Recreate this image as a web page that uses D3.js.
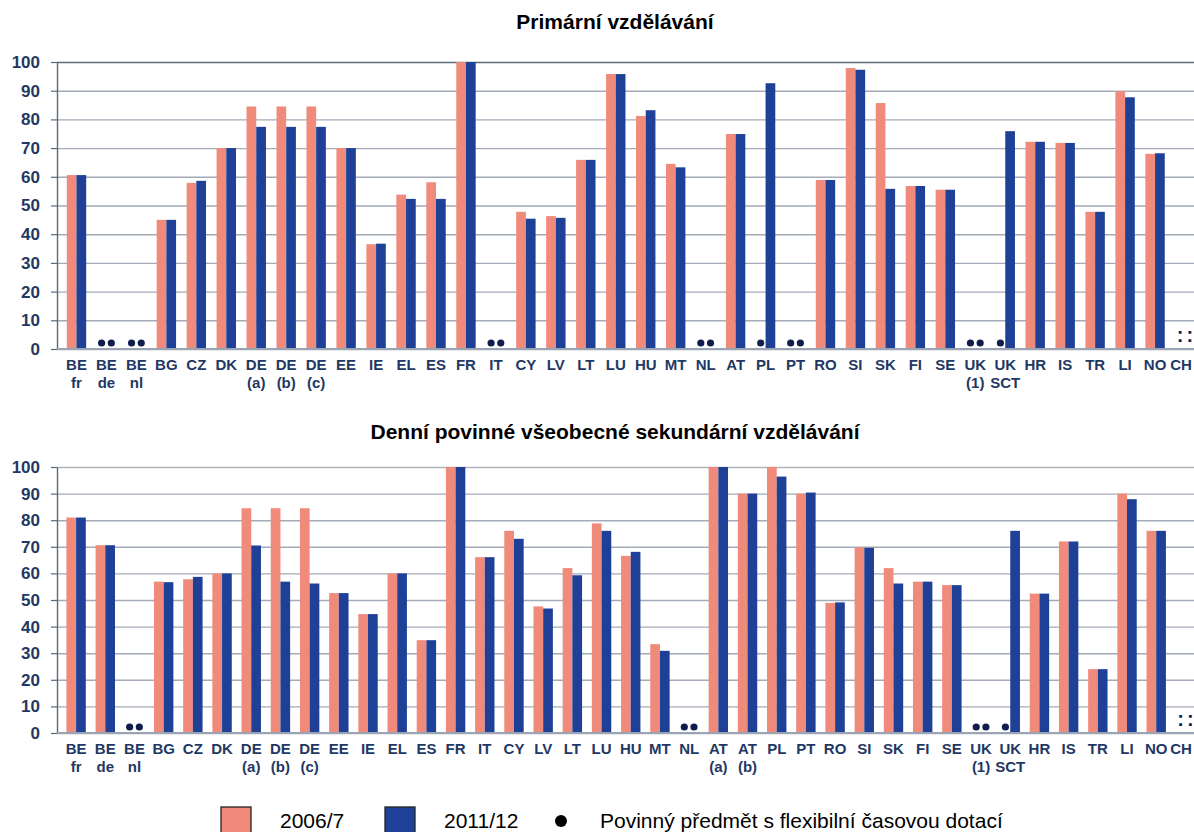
<!DOCTYPE html>
<html>
<head>
<meta charset="utf-8">
<script src="https://cdn.jsdelivr.net/npm/d3@7"></script>
<style>
  body { margin: 0; background: #fff; }
  svg { display: block; font-family: "Liberation Sans", Arial, sans-serif; }
  .axisText { font-weight: bold; fill: #1f3864; }
</style>
</head>
<body>
<div id="chart"></div>
<script>
// Primary education
var primCountries = ["BE fr", "BE de", "BE nl", "BG", "CZ", "DK", "DE (a)", "DE (b)", "DE (c)", "EE", "IE", "EL", "ES", "FR", "IT", "CY", "LV", "LT", "LU", "HU", "MT", "NL", "AT", "PL", "PT", "RO", "SI", "SK", "FI", "SE", "UK (1)", "UK SCT", "HR", "IS", "TR", "LI", "NO", "CH"];
var prim2006 = [60.6, null, null, 45, 57.9, 70, 84.5, 84.5, 84.5, 70, 36.5, 53.8, 58.1, 100, null, 47.8, 46.3, 65.9, 95.8, 81.2, 64.5, null, 74.9, null, null, 58.9, 97.9, 85.7, 56.8, 55.5, null, null, 72.2, 71.8, 47.8, 89.8, 68.0, null];
var prim2011 = [60.6, null, null, 45, 58.6, 70, 77.4, 77.4, 77.4, 70, 36.7, 52.3, 52.3, 100, null, 45.4, 45.7, 65.9, 95.8, 83.2, 63.3, null, 74.9, 92.6, null, 58.9, 97.3, 55.8, 56.8, 55.5, null, 75.9, 72.2, 71.8, 47.8, 87.7, 68.2, null];
var primFlex2006 = ["BE de", "BE nl", "IT", "NL", "PL", "PT", "UK (1)", "UK SCT"];
var primFlex2011 = ["BE de", "BE nl", "IT", "NL", "PT", "UK (1)"];
var primNoData = ["CH"];

// Full-time compulsory general secondary education
var secCountries = ["BE fr", "BE de", "BE nl", "BG", "CZ", "DK", "DE (a)", "DE (b)", "DE (c)", "EE", "IE", "EL", "ES", "FR", "IT", "CY", "LV", "LT", "LU", "HU", "MT", "NL", "AT (a)", "AT (b)", "PL", "PT", "RO", "SI", "SK", "FI", "SE", "UK (1)", "UK SCT", "HR", "IS", "TR", "LI", "NO", "CH"];
var sec2006 = [81, 70.6, null, 56.9, 57.8, 60, 84.5, 84.5, 84.5, 52.6, 44.7, 60, 34.9, 100, 66.1, 76, 47.6, 62, 78.8, 66.6, 33.4, null, 100, 90, 100, 90, 48.9, 69.8, 62, 56.9, 55.6, null, null, 52.4, 72, 24, 90, 76, null];
var sec2011 = [81, 70.6, null, 56.7, 58.7, 60, 70.5, 56.9, 56.2, 52.6, 44.7, 60, 34.9, 100, 66.1, 73, 46.8, 59.3, 76, 68.1, 30.9, null, 100, 90, 96.4, 90.4, 49.1, 69.6, 56.2, 56.9, 55.6, null, 76, 52.4, 72, 24, 87.9, 76, null];
var secFlex2006 = ["BE nl", "NL", "UK (1)", "UK SCT"];
var secFlex2011 = ["BE nl", "NL", "UK (1)"];
var secNoData = ["CH"];

var yTicks = [0, 10, 20, 30, 40, 50, 60, 70, 80, 90, 100];
var seriesNames = ["2006/7", "2011/12"];
var seriesColors = ["#f08b7b", "#1e4096"];

var svgWidth = 1194;
var svgHeight = 832;

var svg = d3.select("#chart")
  .append("svg")
  .attr("width", svgWidth)
  .attr("height", svgHeight);

function drawPanel(p) {
  var g = svg.append("g");

  var x = d3.scaleBand()
    .domain(p.countries)
    .range([61.5, 1200]);

  var bw = x.bandwidth();
  var xSub = d3.scaleBand()
    .domain(seriesNames)
    .range([bw / 2 - 9.7, bw / 2 + 9.7]);

  var y = d3.scaleLinear()
    .domain([0, 100])
    .range([p.bottom, p.top]);

  // gridlines
  g.append("g")
    .attr("transform", "translate(57,0)")
    .call(d3.axisLeft(y).tickValues(yTicks).tickSize(-1140).tickFormat(""))
    .call(function(s) {
      s.select(".domain").remove();
      s.selectAll("line")
        .attr("stroke", function(d) { return d == 100 ? p.topLine : "#a3abb8"; })
        .attr("stroke-width", 1.4);
    });

  // left axis with ticks
  g.append("g")
    .attr("transform", "translate(57,0)")
    .call(d3.axisLeft(y).tickValues(yTicks).tickSize(6).tickSizeOuter(0).tickPadding(11))
    .call(function(s) {
      s.select(".domain").attr("stroke", "#5a6b7c").attr("stroke-width", 1.4);
      s.selectAll("line").attr("stroke", "#5a6b7c").attr("stroke-width", 1.2);
      s.selectAll("text")
        .attr("class", "axisText")
        .style("font-size", "17px")
        .style("font-family", "\"Liberation Sans\", Arial, sans-serif");
    });

  // bars
  var rows = p.countries.map(function(c, i) {
    return { c: c, vals: [p.v2006[i], p.v2011[i]] };
  });

  var groups = g.selectAll(".pair")
    .data(rows)
    .enter()
    .append("g")
    .attr("transform", d => `translate(${x(d.c)},0)`);

  groups.selectAll("rect")
    .data(d => d.vals.map(function(v, j) { return { s: seriesNames[j], v: v, j: j }; }).filter(e => e.v != null))
    .enter()
    .append("rect")
    .attr("x", e => xSub(e.s))
    .attr("width", xSub.bandwidth())
    .attr("y", e => y(e.v))
    .attr("height", e => y(0) - y(e.v))
    .attr("fill", e => seriesColors[e.j]);

  // baseline
  g.append("line")
    .attr("x1", 57).attr("x2", 1194)
    .attr("y1", y(0)).attr("y2", y(0))
    .attr("stroke", "#9aa3b1")
    .attr("stroke-width", 2);

  // flexible timetable dots
  var dots = [];
  p.flex2006.forEach(c => dots.push({ c: c, s: seriesNames[0] }));
  p.flex2011.forEach(c => dots.push({ c: c, s: seriesNames[1] }));
  g.selectAll(".flex")
    .data(dots)
    .enter()
    .append("circle")
    .attr("cx", d => x(d.c) + xSub(d.s) + xSub.bandwidth() / 2)
    .attr("cy", y(0) - 6)
    .attr("r", 3.6)
    .attr("fill", "#0f1d4d");

  // not available ":"
  var na = [];
  p.noData.forEach(c => seriesNames.forEach(s => na.push({ c: c, s: s })));
  g.selectAll(".na")
    .data(na)
    .enter()
    .append("text")
    .attr("x", d => x(d.c) + xSub(d.s) + xSub.bandwidth() / 2)
    .attr("y", y(0) - 7)
    .attr("text-anchor", "middle")
    .style("font-size", "20px")
    .style("font-weight", "bold")
    .style("fill", "#0f1d4d")
    .text(":");

  // category labels (two lines)
  var labels = g.selectAll(".xlab")
    .data(p.countries)
    .enter()
    .append("text")
    .attr("class", "axisText")
    .attr("text-anchor", "middle")
    .style("font-size", "15px")
    .attr("y", y(0) + 21);

  labels.selectAll("tspan")
    .data(c => c.split(" ").map(t => ({ t: t, c: c })))
    .enter()
    .append("tspan")
    .attr("x", d => Math.min(x(d.c) + bw / 2, 1181))
    .attr("dy", (d, i) => i == 0 ? 0 : 18)
    .text(d => d.t);

  // panel title
  svg.append("text")
    .attr("x", 615)
    .attr("y", p.titleY)
    .attr("text-anchor", "middle")
    .style("font-size", "21px")
    .style("font-weight", "bold")
    .style("fill", "#000")
    .text(p.title);
}

drawPanel({
  countries: primCountries, v2006: prim2006, v2011: prim2011,
  flex2006: primFlex2006, flex2011: primFlex2011, noData: primNoData,
  top: 62, bottom: 349, topLine: "#5a6b7c",
  title: "Primární vzdělávání", titleY: 29
});

drawPanel({
  countries: secCountries, v2006: sec2006, v2011: sec2011,
  flex2006: secFlex2006, flex2011: secFlex2011, noData: secNoData,
  top: 467, bottom: 733, topLine: "#b0b5bb",
  title: "Denní povinné všeobecné sekundární vzdělávání", titleY: 439
});

// Legend
var legend = svg.append("g");
var legendX = [221, 385];
seriesNames.forEach(function(name, i) {
  legend.append("rect")
    .attr("x", legendX[i])
    .attr("y", 807)
    .attr("width", 30)
    .attr("height", 30)
    .attr("fill", seriesColors[i])
    .attr("stroke", "#222")
    .attr("stroke-width", 1.3);
  legend.append("text")
    .attr("x", legendX[i] + 59)
    .attr("y", 828)
    .style("font-size", "21px")
    .style("fill", "#000")
    .text(name);
});
legend.append("circle")
  .attr("cx", 561)
  .attr("cy", 821)
  .attr("r", 6)
  .attr("fill", "#000");
legend.append("text")
  .attr("x", 600)
  .attr("y", 828)
  .style("font-size", "21px")
  .style("fill", "#000")
  .text("Povinný předmět s flexibilní časovou dotací");
</script>
</body>
</html>
